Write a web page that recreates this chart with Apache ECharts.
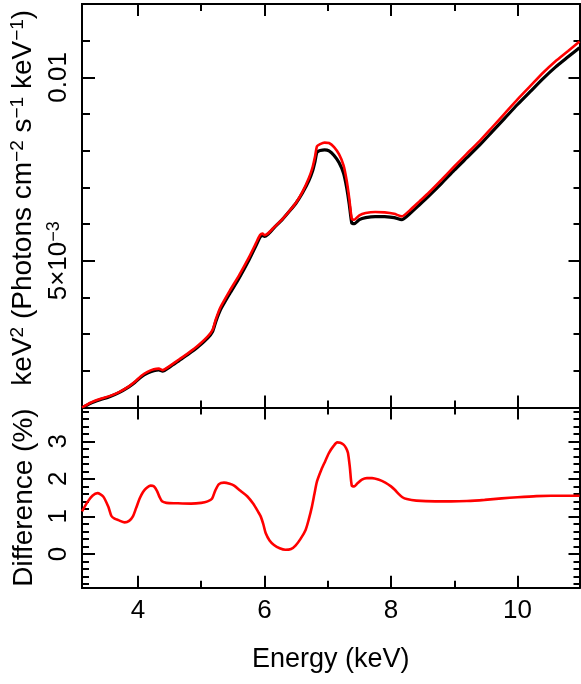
<!DOCTYPE html>
<html><head><meta charset="utf-8">
<script src="https://cdn.jsdelivr.net/npm/echarts@6/dist/echarts.min.js"></script>
<style>html,body{margin:0;padding:0;background:#fff}#c{width:581px;height:684px}</style>
</head><body><div id="c"></div>
<script>
// ---- data ----
const energyTop = [3.115,3.25,3.40,3.55,3.70,3.85,3.95,4.05,4.15,4.25,4.33,4.39,4.50,4.65,4.80,4.95,5.10,5.18,5.23,5.30,5.45,5.60,5.75,5.86,5.93,5.97,6.00,6.05,6.15,6.28,6.40,6.50,6.60,6.70,6.76,6.80,6.83,6.88,6.95,7.02,7.10,7.18,7.25,7.30,7.34,7.38,7.42,7.50,7.60,7.75,7.90,8.05,8.17,8.30,8.45,8.60,8.80,9.00,9.20,9.40,9.60,9.80,10.00,10.20,10.40,10.60,10.80,10.98];
const modelBlack = [0.00099,0.001113,0.001211,0.001294,0.001407,0.001556,0.001682,0.001833,0.001936,0.002004,0.002028,0.001992,0.002102,0.002279,0.002457,0.002654,0.002890,0.003074,0.003342,0.003651,0.004104,0.004533,0.005005,0.005393,0.005641,0.005692,0.005666,0.005714,0.005897,0.006123,0.006362,0.006576,0.006849,0.007182,0.007449,0.007719,0.007965,0.008004,0.008023,0.007994,0.007872,0.007672,0.007386,0.006988,0.006543,0.006030,0.006013,0.006122,0.006176,0.006206,0.006202,0.006175,0.006118,0.006289,0.006527,0.00677,0.00711,0.00747,0.00781,0.00815,0.00852,0.00889,0.00926,0.00961,0.00996,0.01028,0.01056,0.01081];
const modelRed = [0.00100,0.00113,0.00123,0.00131,0.00142,0.00157,0.00170,0.00186,0.00197,0.00204,0.00206,0.00202,0.00213,0.00231,0.00249,0.00269,0.00293,0.00312,0.00340,0.00372,0.00418,0.00461,0.00508,0.00546,0.00570,0.00574,0.00570,0.00574,0.00591,0.00613,0.00637,0.00659,0.00688,0.00725,0.00755,0.00785,0.00812,0.00818,0.00822,0.00821,0.00810,0.00790,0.00760,0.00718,0.00670,0.00614,0.00612,0.00624,0.00630,0.00633,0.00632,0.00628,0.00621,0.00638,0.00662,0.00686,0.00721,0.00757,0.00792,0.00826,0.00864,0.00902,0.00940,0.00976,0.01012,0.01044,0.01072,0.01098];
const energyDiff = [3.115,3.20,3.28,3.36,3.45,3.53,3.58,3.63,3.69,3.79,3.86,3.92,3.97,4.03,4.08,4.13,4.20,4.25,4.30,4.34,4.38,4.45,4.60,4.84,5.00,5.10,5.17,5.22,5.28,5.36,5.45,5.52,5.62,5.73,5.82,5.90,5.94,5.98,6.02,6.08,6.15,6.24,6.33,6.42,6.49,6.57,6.65,6.70,6.75,6.79,6.83,6.90,6.96,7.02,7.09,7.15,7.20,7.25,7.29,7.32,7.35,7.38,7.42,7.47,7.54,7.62,7.70,7.80,7.91,8.00,8.06,8.12,8.18,8.25,8.40,8.70,8.95,9.20,9.48,9.75,10.00,10.30,10.53,10.75,10.98];
const diffPercent = [1.13,1.38,1.55,1.62,1.53,1.26,1.01,0.94,0.90,0.84,0.88,1.00,1.22,1.49,1.65,1.75,1.82,1.80,1.68,1.52,1.40,1.36,1.35,1.34,1.36,1.40,1.47,1.68,1.86,1.90,1.87,1.82,1.68,1.53,1.34,1.12,1.00,0.80,0.55,0.36,0.24,0.15,0.11,0.13,0.22,0.40,0.64,0.92,1.26,1.60,1.93,2.25,2.47,2.69,2.87,2.97,2.96,2.91,2.82,2.69,2.30,1.82,1.80,1.88,1.98,2.02,2.02,1.98,1.90,1.80,1.71,1.60,1.51,1.46,1.42,1.40,1.40,1.41,1.44,1.48,1.51,1.54,1.55,1.55,1.55];

const xMajorTicks = [4, 6, 8, 10];
const xMinorTicks = [5, 7, 9];
const xTickLabels = ['4', '6', '8', '10'];
const topMajorTicks = [0.005, 0.01];
const topMinorTicks = [0.002, 0.003, 0.004, 0.006, 0.007, 0.008, 0.009, 0.011];
const topTickLabels = ['{n|5×10}{s|−3}', '{n|0.01}'];
const diffMajorTicks = [0, 1, 2, 3];
const diffMinorTicks = [-0.8,-0.6,-0.4,-0.2,0.2,0.4,0.6,0.8,1.2,1.4,1.6,1.8,2.2,2.4,2.6,2.8,3.2,3.4,3.6,3.8];
const diffTickLabels = ['0', '1', '2', '3'];
const xTitle = 'Energy (keV)';
const topTitle = '{n|keV}{s|2}{n| (Photons cm}{s|−2}{n| s}{s|−1}{n| keV}{s|−1}{n|)}';
const diffTitle = 'Difference (%)';

// ---- layout ----
const X_MIN = 3.115, X_MAX = 10.98;
const TOP_MIN = 0.001, TOP_MAX = 0.012;
const DIFF_MIN = -0.9, DIFF_MAX = 3.9;
const FONT = '"Liberation Sans", Arial, Helvetica, sans-serif';
const LINE = { color: '#000', width: 2 };

function axis(grid, position, min, max, ticks, len, extra) {
  const a = {
    type: 'value', gridIndex: grid, position: position, min: min, max: max,
    axisLine: { show: true, onZero: false, lineStyle: LINE },
    axisTick: { show: true, inside: true, length: len, customValues: ticks, lineStyle: LINE },
    axisLabel: { show: false },
    splitLine: { show: false },
    minorTick: { show: false },
    axisPointer: { show: false }
  };
  return Object.assign(a, extra || {});
}
function labelMap(vals, labels) {
  return function (v) {
    for (let i = 0; i < vals.length; i++) if (Math.abs(vals[i] - v) < 1e-9) return labels[i];
    return '';
  };
}
const richTitle = {
  n: { fontSize: 28, lineHeight: 30, color: '#000', fontFamily: FONT },
  s: { fontSize: 19, lineHeight: 30, color: '#000', fontFamily: FONT, verticalAlign: 'top', padding: [0, 0, 0, 0] }
};
const richTick = {
  n: { fontSize: 26, lineHeight: 28, color: '#000', fontFamily: FONT },
  s: { fontSize: 18, lineHeight: 28, color: '#000', fontFamily: FONT, verticalAlign: 'top' }
};

const xAxes = [
  axis(0, 'bottom', X_MIN, X_MAX, xMajorTicks, 12),
  axis(0, 'bottom', X_MIN, X_MAX, xMinorTicks, 7),
  axis(0, 'top', X_MIN, X_MAX, xMajorTicks, 12),
  axis(0, 'top', X_MIN, X_MAX, xMinorTicks, 7),
  axis(1, 'bottom', X_MIN, X_MAX, xMajorTicks, 12, {
    name: xTitle, nameLocation: 'middle', nameGap: 58,
    nameTextStyle: { fontSize: 27, color: '#000', fontFamily: FONT },
    axisLabel: { show: true, customValues: xMajorTicks, formatter: labelMap(xMajorTicks, xTickLabels),
      fontSize: 26, color: '#000', fontFamily: FONT, margin: 10 }
  }),
  axis(1, 'bottom', X_MIN, X_MAX, xMinorTicks, 7),
  axis(1, 'top', X_MIN, X_MAX, xMajorTicks, 12),
  axis(1, 'top', X_MIN, X_MAX, xMinorTicks, 7)
];
const yAxes = [
  axis(0, 'left', TOP_MIN, TOP_MAX, topMajorTicks, 13, {
    name: topTitle, nameLocation: 'middle', nameGap: 40, nameRotate: 90,
    nameTextStyle: { fontSize: 28, color: '#000', fontFamily: FONT, rich: richTitle, padding: [0, 0, 0, 16] },
    axisLabel: { show: true, customValues: topMajorTicks, formatter: labelMap(topMajorTicks, topTickLabels),
      rotate: 90, fontSize: 26, color: '#000', fontFamily: FONT, margin: 9, rich: richTick }
  }),
  axis(0, 'left', TOP_MIN, TOP_MAX, topMinorTicks, 8),
  axis(0, 'right', TOP_MIN, TOP_MAX, topMajorTicks, 11),
  axis(0, 'right', TOP_MIN, TOP_MAX, topMinorTicks, 6),
  axis(1, 'left', DIFF_MIN, DIFF_MAX, diffMajorTicks, 13, {
    name: diffTitle, nameLocation: 'middle', nameGap: 40, nameRotate: 90,
    nameTextStyle: { fontSize: 28, color: '#000', fontFamily: FONT },
    axisLabel: { show: true, customValues: diffMajorTicks, formatter: labelMap(diffMajorTicks, diffTickLabels),
      rotate: 90, fontSize: 26, color: '#000', fontFamily: FONT, margin: 10 }
  }),
  axis(1, 'left', DIFF_MIN, DIFF_MAX, diffMinorTicks, 7),
  axis(1, 'right', DIFF_MIN, DIFF_MAX, diffMajorTicks, 11),
  axis(1, 'right', DIFF_MIN, DIFF_MAX, diffMinorTicks, 6)
];

const chart = echarts.init(document.getElementById('c'), null, { renderer: 'canvas' });
chart.setOption({
  animation: false,
  backgroundColor: '#fff',
  grid: [
    { left: 82, right: 1.5, top: 4, height: 403.5 },
    { left: 82, right: 1.5, top: 407.5, height: 180.2 }
  ],
  xAxis: xAxes,
  yAxis: yAxes,
  series: [
    { type: 'line', xAxisIndex: 0, yAxisIndex: 0, showSymbol: false, smooth: 0.2,
      lineStyle: { color: '#000', width: 3.2 }, data: energyTop.map((e, i) => [e, modelBlack[i]]) },
    { type: 'line', xAxisIndex: 0, yAxisIndex: 0, showSymbol: false, smooth: 0.2,
      lineStyle: { color: '#ff0000', width: 2.6 }, data: energyTop.map((e, i) => [e, modelRed[i]]) },
    { type: 'line', xAxisIndex: 4, yAxisIndex: 4, showSymbol: false, smooth: 0.25,
      lineStyle: { color: '#ff0000', width: 2.6 }, data: energyDiff.map((e, i) => [e, diffPercent[i]]) }
  ]
});
</script>
</body></html>
